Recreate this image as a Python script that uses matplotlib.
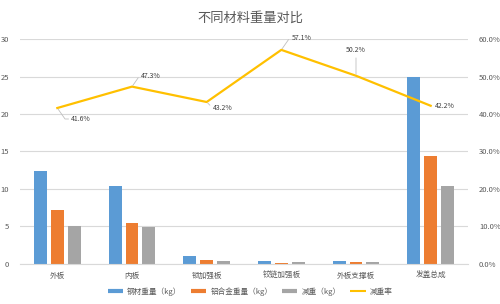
import numpy as np
import matplotlib
matplotlib.use('Agg')
import matplotlib.pyplot as plt
from matplotlib.lines import Line2D

plt.rcParams['font.family'] = ['Noto Sans CJK SC', 'DejaVu Sans']

# data
categories = ['外板', '内板', '锁加强板', '铰链加强板', '外板支撑板', '发盖总成']
steel_kg = [12.35, 10.4, 1.0, 0.35, 0.4, 24.9]
alu_kg = [7.2, 5.47, 0.57, 0.15, 0.2, 14.35]
saved_kg = [5.1, 4.9, 0.43, 0.2, 0.2, 10.45]
saved_rate = [41.6, 47.3, 43.2, 57.1, 50.2, 42.2]
series_names = ['钢材重量（kg）', '铝合金重量（kg）', '减重（kg）', '减重率']
title = '不同材料重量对比'

blue, orange, gray, gold = '#5B9BD5', '#ED7D31', '#A5A5A5', '#FFC000'
txt = '#595959'

fig = plt.figure(figsize=(5, 3.04), dpi=100)
ax = fig.add_axes([0.04, 0.1316, 0.896, 0.7401])
x = np.arange(len(categories))
w = 0.174
off = 0.225
ax.bar(x - off, steel_kg, w, color=blue, zorder=2)
ax.bar(x, alu_kg, w, color=orange, zorder=2)
ax.bar(x + off, saved_kg, w, color=gray, zorder=2)

ax.set_xlim(-0.5, len(categories) - 0.5)
ax.set_ylim(0, 30)
ax.set_yticks(range(0, 31, 5))
ax.yaxis.grid(True, color='#D9D9D9', linewidth=0.8)
ax.set_axisbelow(True)
for s in ['top', 'right', 'left']:
    ax.spines[s].set_visible(False)
ax.spines['bottom'].set_color('#D9D9D9')
ax.set_xticks(x)
ax.set_xticklabels(categories, fontsize=5.5, color=txt)
ax.tick_params(axis='both', length=0, labelsize=5.5, colors=txt)
ax.tick_params(axis='x', pad=6)
ax.tick_params(axis='y', pad=8)

ax2 = ax.twinx()
ax2.plot(x, saved_rate, color=gold, linewidth=1.6, zorder=3)
ax2.set_ylim(0, 60)
ax2.set_yticks(range(0, 61, 10))
ax2.set_yticklabels([f'{v:.1f}%' for v in range(0, 61, 10)])
ax2.tick_params(axis='y', length=0, labelsize=5.5, colors=txt, pad=8)
for s in ax2.spines.values():
    s.set_visible(False)

# data labels with leader lines (offsets in pixels, angle of leader at point)
label_pos = [(14, -11, 'left', 'center', -55),
             (9, 11, 'left', 'center', 55),
             (6, -6, 'left', 'center', -45),
             (10, 12, 'left', 'center', 55),
             (0, 22, 'center', 'bottom', 90),
             (4, 0, 'left', 'center', None)]
for xi, yi, (dx, dy, ha, va, ang) in zip(x, saved_rate, label_pos):
    if ang is None:
        arrow = None
    elif ang == 90:
        arrow = dict(arrowstyle='-', color='#BFBFBF', lw=0.6, shrinkA=1, shrinkB=1)
    else:
        arrow = dict(arrowstyle='-', color='#BFBFBF', lw=0.6, shrinkA=0, shrinkB=1,
                     connectionstyle=f'angle,angleA=0,angleB={ang},rad=0')
    ax2.annotate(f'{yi:.1f}%', xy=(xi, yi), xytext=(dx, dy),
                 textcoords='offset pixels', fontsize=5, color='#404040',
                 ha=ha, va=va, arrowprops=arrow)

fig.text(0.5, 0.94, title, ha='center', va='center', fontsize=9.5, color=txt)

handles = [Line2D([], [], color=blue, lw=3, solid_capstyle='butt'),
           Line2D([], [], color=orange, lw=3, solid_capstyle='butt'),
           Line2D([], [], color=gray, lw=3, solid_capstyle='butt'),
           Line2D([], [], color=gold, lw=1.5, solid_capstyle='butt')]
fig.legend(handles, series_names, loc='center', bbox_to_anchor=(0.5, 0.042),
           ncol=4, frameon=False, fontsize=5.5, handlelength=2.0,
           columnspacing=1.3, handletextpad=0.5, labelcolor=txt)

fig.savefig('out.png', dpi=100, facecolor='white')
